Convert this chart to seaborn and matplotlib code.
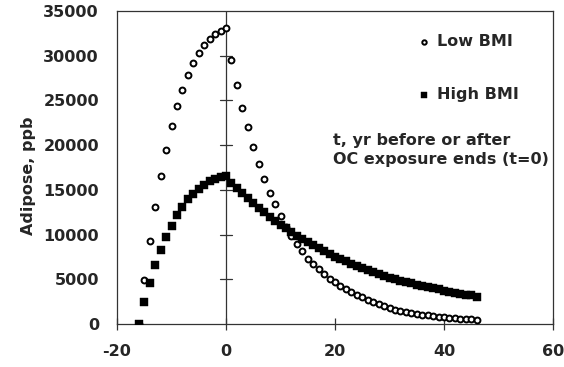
import matplotlib
matplotlib.use("Agg")
import matplotlib.pyplot as plt
import seaborn as sns
import numpy as np
import pandas as pd

# ---- data (years relative to end of OC exposure) ----
t_years = list(range(-16, 47))

low_bmi = [0, 4900, 9300, 13100, 16500, 19500, 22100, 24350, 26200, 27800,
           29200, 30300, 31200, 31900, 32400, 32800, 33050,
           29520, 26670, 24170, 22000, 19780, 17900, 16180, 14680, 13380, 12060,
           10900, 9810, 8900, 8150, 7300, 6740, 6100, 5540, 5060, 4680,
           4300, 3930, 3630, 3290, 2990, 2700, 2430, 2250, 1980, 1750,
           1600, 1470, 1350, 1240, 1140, 1050, 970, 900, 830, 770,
           710, 660, 610, 570, 530, 500]

high_bmi = [0, 2500, 4600, 6550, 8240, 9730, 11010, 12170, 13110, 13940,
            14530, 15060, 15540, 15960, 16220, 16410, 16560,
            15800, 15200, 14620, 14060, 13520, 13000, 12500, 12020, 11560, 11120,
            10690, 10280, 9880, 9500, 9140, 8790, 8460, 8140, 7830, 7540,
            7260, 6990, 6730, 6480, 6240, 6010, 5790, 5580, 5380, 5190,
            5010, 4840, 4680, 4530, 4380, 4240, 4110, 3980, 3860, 3740,
            3620, 3500, 3390, 3290, 3190, 3000]

x_ticks = [-20, 0, 20, 40, 60]
y_ticks = [0, 5000, 10000, 15000, 20000, 25000, 30000, 35000]
series_labels = ["Low BMI", "High BMI"]
y_label = "Adipose, ppb"
note = "t, yr before or after\nOC exposure ends (t=0)"

df = pd.DataFrame({"t": t_years, "low": low_bmi, "high": high_bmi})

sns.set_theme(style="white")
plt.rcParams["font.family"] = ["DejaVu Sans"]
plt.rcParams["font.weight"] = "bold"

fig = plt.figure(figsize=(5.64, 3.67), dpi=100)
ax = fig.add_axes([117 / 564, 1 - 324 / 367, 436 / 564, 313 / 367])

spine_col = "#333333"
# Excel-style vertical axis at t=0 with cross ticks
ax.axvline(0, color=spine_col, lw=0.9, zorder=1)
for yv in y_ticks[1:-1]:
    ax.plot([-1.1, 1.1], [yv, yv], color=spine_col, lw=0.9, zorder=1)

sns.scatterplot(data=df, x="t", y="low", ax=ax, marker="o", s=18,
                facecolor="white", edgecolor="black", linewidth=1.4,
                label=series_labels[0], zorder=3)
sns.scatterplot(data=df, x="t", y="high", ax=ax, marker="s", s=28,
                color="black", edgecolor="black", linewidth=0.3,
                label=series_labels[1], zorder=4)

ax.set_xlim(-20, 60)
ax.set_ylim(0, 35000)
ax.set_xticks(x_ticks)
ax.set_yticks(y_ticks)
ax.set_xticklabels([str(v) for v in x_ticks], fontsize=11.5, fontweight="bold")
ax.set_yticklabels([str(v) for v in y_ticks], fontsize=11.5, fontweight="bold")
ax.tick_params(axis="x", direction="inout", length=9, width=0.9,
               color=spine_col, pad=10, bottom=True)
ax.tick_params(axis="y", length=0, pad=13)
ax.set_xlabel("")
ax.set_ylabel(y_label, fontsize=11.5, fontweight="bold")
ax.yaxis.set_label_coords(-0.186, 0.473)

for sp in ax.spines.values():
    sp.set_color(spine_col)
    sp.set_linewidth(0.9)
    sp.set_visible(True)

leg = ax.legend(loc="upper left", bbox_to_anchor=(0.69, 0.925), frameon=False,
                fontsize=11.5, markerscale=0.75, handlelength=0.8,
                handletextpad=0.4, labelspacing=2.35, borderpad=0,
                borderaxespad=0)
for txt in leg.get_texts():
    txt.set_fontweight("bold")

ax.text(0.495, 0.556, note, transform=ax.transAxes, fontsize=11.5,
        fontweight="bold", va="center", ha="left", linespacing=1.3)

fig.savefig("out.png", dpi=100)
